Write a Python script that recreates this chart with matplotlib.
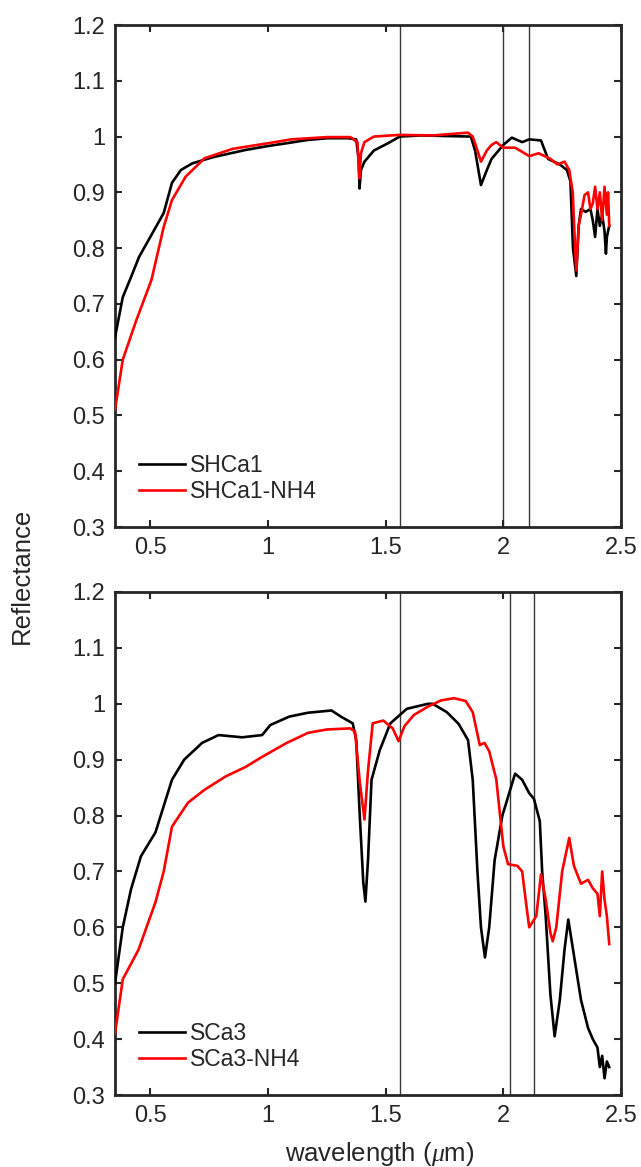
import matplotlib
matplotlib.use("Agg")
import matplotlib.pyplot as plt

plt.rcParams['font.family'] = ['Liberation Sans', 'DejaVu Sans']
plt.rcParams['mathtext.fontset'] = 'custom'
plt.rcParams['mathtext.it'] = 'Liberation Serif:italic'

# ---------------- data ----------------
# Top panel
shca1_x = [0.35, 0.383, 0.42, 0.452, 0.50, 0.557, 0.592, 0.63, 0.679, 0.766, 0.905, 1.0, 1.079,
           1.17, 1.253, 1.34, 1.375, 1.385, 1.389, 1.395, 1.41, 1.45, 1.51, 1.56, 1.65, 1.75,
           1.862, 1.88, 1.905, 1.93, 1.95, 2.0, 2.036, 2.08, 2.11, 2.16, 2.19, 2.24, 2.27,
           2.285, 2.296, 2.31, 2.32, 2.33, 2.35, 2.37, 2.38, 2.39, 2.40, 2.41, 2.42, 2.43,
           2.436, 2.44, 2.45]
shca1_y = [0.64, 0.712, 0.75, 0.784, 0.82, 0.863, 0.917, 0.94, 0.952, 0.963, 0.976, 0.983, 0.988,
           0.994, 0.997, 0.997, 0.995, 0.96, 0.907, 0.94, 0.955, 0.975, 0.988, 1.0, 1.002, 1.001,
           1.0, 0.975, 0.913, 0.94, 0.96, 0.985, 0.998, 0.99, 0.995, 0.993, 0.96, 0.95, 0.94,
           0.92, 0.80, 0.75, 0.84, 0.87, 0.865, 0.87, 0.85, 0.82, 0.87, 0.84, 0.86, 0.83,
           0.79, 0.82, 0.84]
shca1nh4_x = [0.35, 0.383, 0.44, 0.505, 0.557, 0.592, 0.65, 0.73, 0.85, 1.0, 1.1, 1.25, 1.35,
              1.38, 1.389, 1.395, 1.41, 1.45, 1.56, 1.7, 1.85, 1.87, 1.89, 1.905, 1.93, 1.95,
              1.97, 2.0, 2.05, 2.11, 2.15, 2.2, 2.23, 2.26, 2.28, 2.295, 2.305, 2.31, 2.32,
              2.33, 2.345, 2.36, 2.37, 2.38, 2.39, 2.40, 2.41, 2.42, 2.43, 2.44, 2.445, 2.45]
shca1nh4_y = [0.51, 0.60, 0.67, 0.743, 0.838, 0.886, 0.928, 0.961, 0.978, 0.988, 0.995, 0.999,
              0.999, 0.99, 0.925, 0.97, 0.99, 1.0, 1.003, 1.002, 1.007, 1.0, 0.975, 0.955, 0.975,
              0.985, 0.99, 0.98, 0.98, 0.965, 0.97, 0.96, 0.95, 0.955, 0.94, 0.90, 0.80, 0.76,
              0.84, 0.86, 0.895, 0.90, 0.87, 0.88, 0.91, 0.87, 0.90, 0.85, 0.91, 0.86, 0.90, 0.84]

# Bottom panel
sca3_x = [0.35, 0.383, 0.418, 0.46, 0.522, 0.592, 0.644, 0.72, 0.79, 0.89, 0.975, 1.01, 1.09,
          1.17, 1.27, 1.31, 1.36, 1.375, 1.39, 1.405, 1.414, 1.425, 1.44, 1.475, 1.52, 1.59,
          1.68, 1.70, 1.76, 1.81, 1.85, 1.87, 1.89, 1.905, 1.922, 1.94, 1.963, 1.996, 2.05,
          2.08, 2.11, 2.13, 2.155, 2.165, 2.18, 2.20, 2.218, 2.24, 2.26, 2.276, 2.30, 2.33,
          2.36, 2.38, 2.40, 2.41, 2.42, 2.43, 2.44, 2.45]
sca3_y = [0.50, 0.60, 0.668, 0.727, 0.77, 0.864, 0.90, 0.93, 0.944, 0.94, 0.944, 0.962, 0.977,
          0.984, 0.988, 0.977, 0.965, 0.935, 0.80, 0.68, 0.646, 0.72, 0.864, 0.917, 0.965, 0.991,
          1.0, 1.0, 0.985, 0.964, 0.935, 0.864, 0.70, 0.60, 0.546, 0.60, 0.72, 0.80, 0.875,
          0.864, 0.84, 0.83, 0.79, 0.70, 0.62, 0.48, 0.405, 0.47, 0.56, 0.614, 0.55, 0.47,
          0.42, 0.40, 0.385, 0.35, 0.37, 0.33, 0.36, 0.35]
sca3nh4_x = [0.35, 0.383, 0.45, 0.522, 0.557, 0.592, 0.66, 0.73, 0.82, 0.905, 0.975, 1.08, 1.17,
             1.25, 1.35, 1.37, 1.39, 1.41, 1.425, 1.445, 1.49, 1.53, 1.555, 1.58, 1.62, 1.68,
             1.735, 1.79, 1.84, 1.87, 1.90, 1.92, 1.94, 1.97, 2.0, 2.02, 2.06, 2.08, 2.10,
             2.11, 2.14, 2.16, 2.18, 2.20, 2.21, 2.225, 2.25, 2.28, 2.30, 2.33, 2.36, 2.38,
             2.40, 2.41, 2.42, 2.43, 2.44, 2.45]
sca3nh4_y = [0.41, 0.507, 0.56, 0.645, 0.70, 0.78, 0.823, 0.846, 0.87, 0.887, 0.905, 0.93, 0.948,
             0.954, 0.956, 0.95, 0.86, 0.793, 0.88, 0.965, 0.97, 0.956, 0.933, 0.96, 0.98, 0.995,
             1.006, 1.01, 1.005, 0.985, 0.926, 0.93, 0.915, 0.865, 0.745, 0.713, 0.71, 0.70, 0.632,
             0.60, 0.62, 0.695, 0.65, 0.59, 0.575, 0.60, 0.70, 0.76, 0.71, 0.678, 0.685, 0.67,
             0.66, 0.62, 0.70, 0.65, 0.62, 0.57]

top_vlines = [1.56, 2.0, 2.11]
bottom_vlines = [1.56, 2.03, 2.13]
top_labels = ['SHCa1', 'SHCa1-NH4']
bottom_labels = ['SCa3', 'SCa3-NH4']
xticks = [0.5, 1.0, 1.5, 2.0, 2.5]
xticklabels = ['0.5', '1', '1.5', '2', '2.5']
yticks = [0.3, 0.4, 0.5, 0.6, 0.7, 0.8, 0.9, 1.0, 1.1, 1.2]
yticklabels = ['0.3', '0.4', '0.5', '0.6', '0.7', '0.8', '0.9', '1', '1.1', '1.2']

# ---------------- figure ----------------
W, H = 641, 1167
fig = plt.figure(figsize=(W / 100, H / 100), dpi=100)
L = 115 / W
AW = (621 - 115) / W
ax1 = fig.add_axes([L, 1 - 527 / H, AW, 502 / H])
ax2 = fig.add_axes([L, 1 - 1095 / H, AW, 503 / H])

spine_col = '#262626'
for ax, (xa, ya, xb, yb), vls, labs in [
        (ax1, (shca1_x, shca1_y, shca1nh4_x, shca1nh4_y), top_vlines, top_labels),
        (ax2, (sca3_x, sca3_y, sca3nh4_x, sca3nh4_y), bottom_vlines, bottom_labels)]:
    for v in vls:
        ax.axvline(v, color='#3a3a3a', lw=1.0, zorder=1)
    ax.plot(xa, ya, color='black', lw=1.9, label=labs[0], zorder=3)
    ax.plot(xb, yb, color='#ff0000', lw=1.9, label=labs[1], zorder=4)
    ax.set_xlim(0.35, 2.5)
    ax.set_ylim(0.3, 1.2)
    ax.set_xticks(xticks)
    ax.set_xticklabels(xticklabels)
    ax.set_yticks(yticks)
    ax.set_yticklabels(yticklabels)
    ax.tick_params(direction='in', length=5, width=1.5, top=True, right=True,
                   labelsize=17, colors=spine_col, pad=7)
    for s in ax.spines.values():
        s.set_linewidth(2.0)
        s.set_color(spine_col)
    leg = ax.legend(loc='lower left', bbox_to_anchor=(0.02, 0.02), frameon=False,
                    fontsize=16.5, handlelength=2.0, handletextpad=0.25, labelspacing=0.15,
                    borderaxespad=0.2)
    for t in leg.get_texts():
        t.set_color(spine_col)

fig.text(22 / W, 1 - 576 / H, 'Reflectance', rotation=90, ha='center', va='center',
         fontsize=18.5, color=spine_col)
fig.text(380 / W, 1 - 1154 / H, r'wavelength ($\mu$m)', ha='center', va='center',
         fontsize=18.5, color=spine_col)

fig.savefig('out.png', dpi=100)
